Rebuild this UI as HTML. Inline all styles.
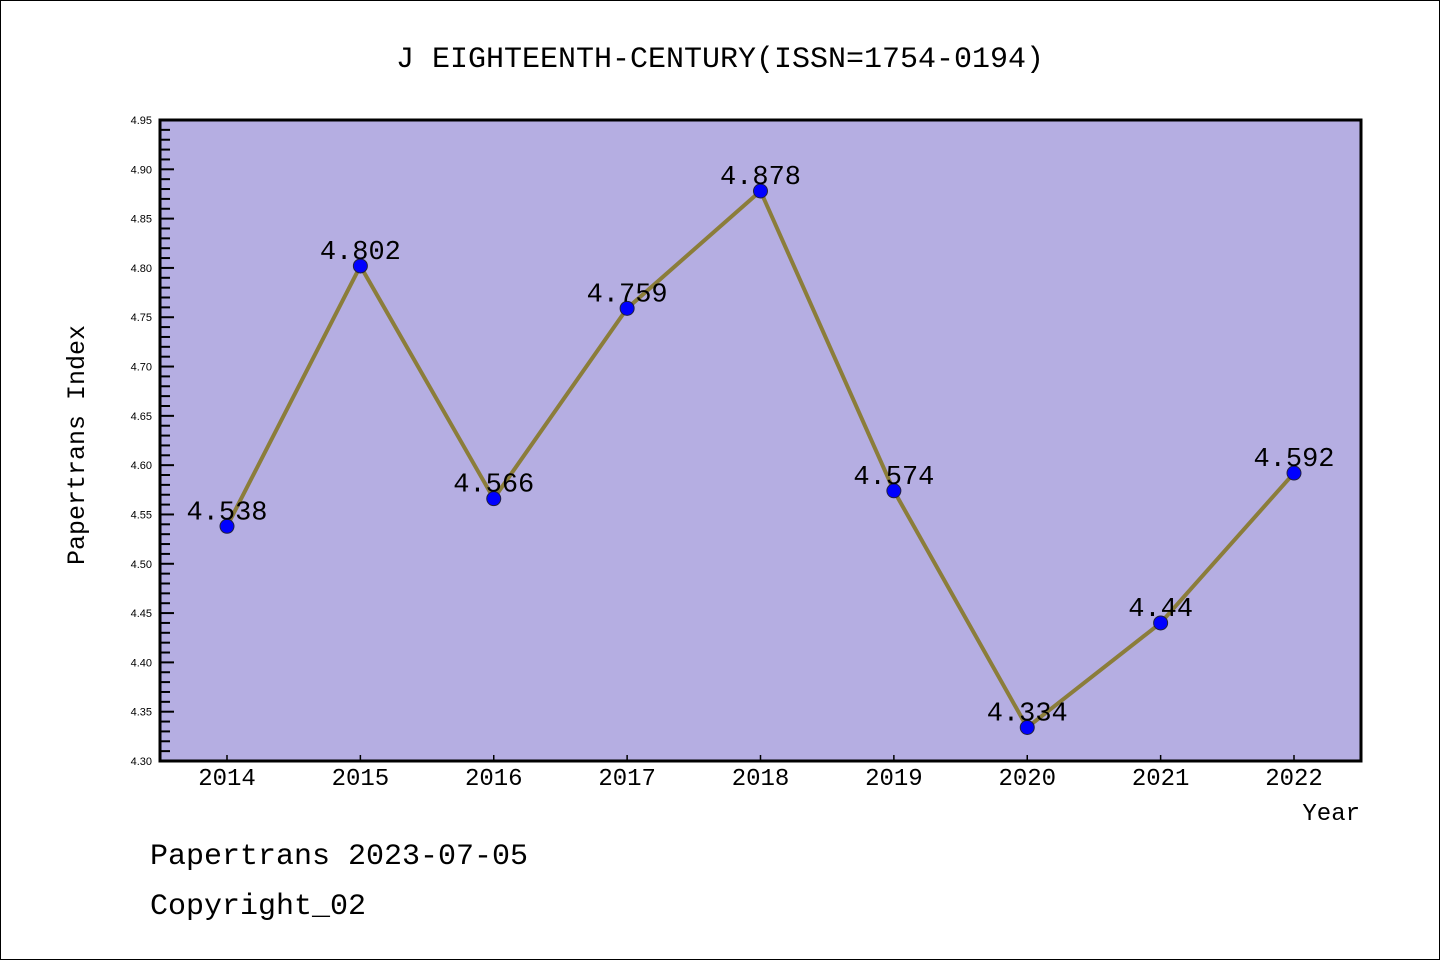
<!DOCTYPE html>
<html><head><meta charset="utf-8"><style>
body{margin:0;background:#fff}
svg{display:block}
</style></head><body>
<svg width="1440" height="960" viewBox="0 0 1440 960" xmlns="http://www.w3.org/2000/svg">
<rect x="0.5" y="0.5" width="1439" height="959" fill="#fff" stroke="#000" stroke-width="1"/>
<text x="720" y="67" text-anchor="middle" font-family="Liberation Mono, monospace" font-size="30">J EIGHTEENTH-CENTURY(ISSN=1754-0194)</text>
<rect x="160" y="120" width="1201" height="641" fill="#b5aee2"/>
<g id="axes"></g>
<g id="series"></g>
<rect x="160" y="120" width="1201" height="641" fill="none" stroke="#000" stroke-width="3"/>
<text transform="translate(84,445) rotate(-90)" text-anchor="middle" font-family="Liberation Mono, monospace" font-size="25">Papertrans Index</text>
<text x="1360" y="820" text-anchor="end" font-family="Liberation Mono, monospace" font-size="24">Year</text>
<text x="150" y="864" font-family="Liberation Mono, monospace" font-size="30">Papertrans 2023-07-05</text>
<text x="150" y="914" font-family="Liberation Mono, monospace" font-size="30">Copyright_02</text>
</svg>
<script>
const years=[2014,2015,2016,2017,2018,2019,2020,2021,2022];
const values=[4.538,4.802,4.566,4.759,4.878,4.574,4.334,4.44,4.592];
const labels=["4.538","4.802","4.566","4.759","4.878","4.574","4.334","4.44","4.592"];
const yTicks=["4.30","4.35","4.40","4.45","4.50","4.55","4.60","4.65","4.70","4.75","4.80","4.85","4.90","4.95"];
const NS="http://www.w3.org/2000/svg";
const yMin=4.30,yMax=4.95,plotTop=120,plotBot=761;
const yS=v=>plotBot-(v-yMin)/(yMax-yMin)*(plotBot-plotTop);
const xS=i=>227+i*(1294-227)/(years.length-1);
const axes=document.getElementById('axes'),ser=document.getElementById('series');
function mk(t,a,p){const e=document.createElementNS(NS,t);for(const k in a)e.setAttribute(k,a[k]);p.appendChild(e);return e;}
for(let k=0;k<=65;k++){const v=yMin+k*0.01;const yy=yS(v);const major=k%5===0;
 const l=mk('line',{x1:160,x2:160+(major?14:10),y1:yy,y2:yy,stroke:'#000','stroke-width':2},axes);
 
 }
yTicks.forEach(t=>{const e=mk('text',{x:152,y:yS(parseFloat(t))+4,'text-anchor':'end','font-family':'Liberation Sans, sans-serif','font-size':11},axes);e.textContent=t;
 
 });
years.forEach((yr,i)=>{const l=mk('line',{x1:xS(i),x2:xS(i),y1:plotBot,y2:plotBot-6,stroke:'#000','stroke-width':1.5},axes);
 
 
 const t=mk('text',{x:xS(i),y:785,'text-anchor':'middle','font-family':'Liberation Mono, monospace','font-size':24},axes);t.textContent=yr;
 
 });
const pl=mk('polyline',{points:values.map((v,i)=>xS(i)+','+yS(v)).join(' '),fill:'none',stroke:'#8b7d3a','stroke-width':4,'stroke-linejoin':'round'},ser);


values.forEach((v,i)=>{const c=mk('circle',{cx:xS(i),cy:yS(v),r:7,fill:'#0000ff',stroke:'#202040','stroke-width':1},ser);
 
 });
values.forEach((v,i)=>{const t=mk('text',{x:xS(i),y:yS(v)-7,'text-anchor':'middle','font-family':'Liberation Mono, monospace','font-size':27},ser);t.textContent=labels[i];
 
 });
</script>
</body></html>
